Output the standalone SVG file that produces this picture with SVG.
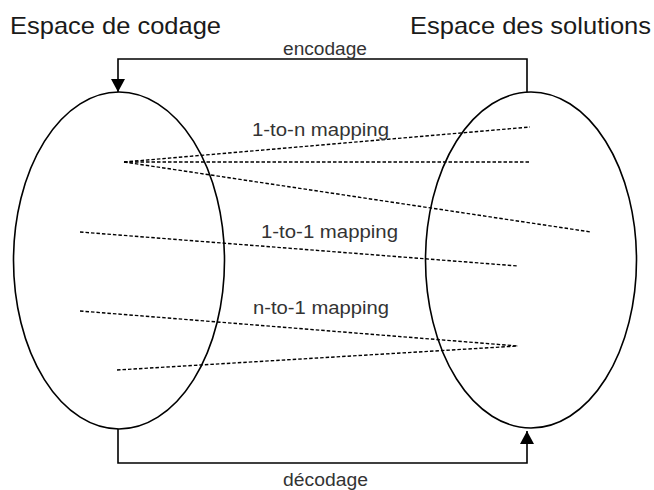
<svg xmlns="http://www.w3.org/2000/svg" width="654" height="490" viewBox="0 0 654 490">
<defs>
<style>
.sp{fill:none;stroke:#000;stroke-width:1.6}
.cn{fill:none;stroke:#000;stroke-width:1.6}
.map{fill:none;stroke:#000;stroke-width:1.4;stroke-dasharray:3.5 2}
.title{font-family:"Liberation Sans",Arial,sans-serif;font-size:24px;fill:#1a1a1a}
.lbl{font-family:"Liberation Sans",Arial,sans-serif;font-size:17.5px;fill:#333}
</style>
<marker id="ah" markerWidth="14" markerHeight="14" refX="13" refY="7" orient="auto" markerUnits="userSpaceOnUse">
<path d="M0,0 L13,7 L0,14 Z" fill="#000"/>
</marker>
</defs>
<rect width="654" height="490" fill="#fff"/>
<g id="espace-codage">
<ellipse class="sp" cx="119" cy="260.5" rx="105.5" ry="168.5"/>
<text class="title" x="10" y="34" textLength="211" lengthAdjust="spacingAndGlyphs">Espace de codage</text>
</g>
<g id="espace-solutions">
<ellipse class="sp" cx="531" cy="260" rx="105.5" ry="168"/>
<text class="title" x="410" y="34" textLength="241" lengthAdjust="spacingAndGlyphs">Espace des solutions</text>
</g>
<g id="connectors">
<path class="cn" d="M527,92 V59 H118 V92" marker-end="url(#ah)"/>
<path class="cn" d="M118,429 V463 H527 V431" marker-end="url(#ah)"/>
<text class="lbl" x="283" y="55" textLength="84" lengthAdjust="spacingAndGlyphs">encodage</text>
<text class="lbl" x="283" y="486" textLength="85" lengthAdjust="spacingAndGlyphs">décodage</text>
<g id="one-to-n">
<line class="map" x1="124" y1="162" x2="530" y2="127"/>
<line class="map" x1="124" y1="162" x2="530" y2="162"/>
<line class="map" x1="124" y1="162" x2="591" y2="232"/>
<text class="lbl" x="252" y="136" textLength="137" lengthAdjust="spacingAndGlyphs">1-to-n mapping</text>
</g>
<g id="one-to-one">
<line class="map" x1="80" y1="232" x2="518" y2="266"/>
<text class="lbl" x="261" y="238" textLength="137" lengthAdjust="spacingAndGlyphs">1-to-1 mapping</text>
</g>
<g id="n-to-one">
<line class="map" x1="80" y1="311" x2="518" y2="346"/>
<line class="map" x1="117" y1="370" x2="518" y2="346"/>
<text class="lbl" x="253" y="314" textLength="136" lengthAdjust="spacingAndGlyphs">n-to-1 mapping</text>
</g>
</g>
</svg>
